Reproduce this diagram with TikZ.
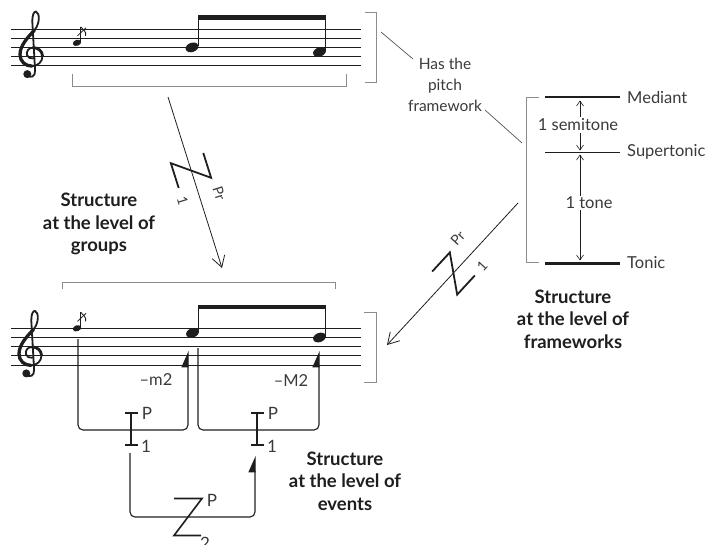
\documentclass[tikz,border=0pt]{standalone}
\usepackage{fontspec}
\setmainfont{Lato}
\usetikzlibrary{arrows.meta}
\definecolor{ink}{HTML}{1E1E1E}
\definecolor{rule}{HTML}{8C8C8C}
\definecolor{txt}{HTML}{3A3A3A}
\definecolor{ptr}{HTML}{555555}

% treble clef, anchored on the G line
\newcommand\gclef[2]{%
  \begin{scope}[shift={(#1,#2)}, yscale=-1]
    \draw[ink, line width=1.8pt, line cap=round]
      (-4,-18.5) .. controls (-1,-22) and (4,-20) .. (3.6,-14)
      -- (0.8,35) .. controls (0.5,41) and (2.5,45.5) .. (4.5,45)
      .. controls (8.5,43.5) and (8.5,33) .. (3,26.5)
      .. controls (-4,19) and (-11.5,11) .. (-11.5,2)
      .. controls (-11.5,-5) and (-6,-9.5) .. (0.5,-9.5)
      .. controls (6.5,-9.5) and (11,-5) .. (11,0.5)
      .. controls (11,5.5) and (6.5,9) .. (1.5,9)
      .. controls (-3,9) and (-5.5,5) .. (-4.5,1.5)
      .. controls (-3.8,-1) and (-1,-2.2) .. (1.5,-1.8);
    \draw[ink, line width=3.3pt, line cap=round]
      (3,26.5) .. controls (-4,19) and (-11.5,11) .. (-11.5,2)
      .. controls (-11.5,-5) and (-6,-9.5) .. (0.5,-9.5);
    \draw[ink, line width=2.8pt, line cap=round]
      (11,0.5) .. controls (11,5.5) and (6.5,9) .. (1.5,9);
    \fill[ink] (-4.2,-17.5) circle (4);
  \end{scope}}

% filled note head
\newcommand\nhd[2]{\fill[ink, rotate around={20:(#1,#2)}] (#1,#2) ellipse (6.6 and 4.6);}

% grace note with slashed flag
\newcommand\grace[2]{%
  \fill[ink, rotate around={20:(#1,#2)}] (#1,#2) ellipse (4.3 and 3.0);
  \draw[ink, line width=0.9pt] ({#1+3.8},{#2-1}) -- ({#1+3.8},{#2-16});
  \draw[ink, line width=0.9pt] ({#1+3.8},{#2-16}) .. controls ({#1+6},{#2-13}) and ({#1+10},{#2-11}) .. ({#1+8.5},{#2-7});
  \draw[ink, line width=0.8pt] ({#1+0.5},{#2-7}) -- ({#1+9},{#2-15});}

\tikzset{
  staffline/.style={ink, line width=0.9pt},
  graybr/.style={rule, line width=1pt},
  ptrline/.style={ptr, line width=0.7pt},
  lbl/.style={text=txt, font=\fontsize{16.5}{21}\selectfont, inner sep=0pt},
  notelbl/.style={text=txt, font=\fontsize{15.5}{21}\selectfont, inner sep=0pt},
  symlbl/.style={text=txt, font=\fontsize{17}{20}\selectfont, inner sep=0pt},
  smalllbl/.style={text=txt, font=\fontsize{14}{16}\selectfont, inner sep=0pt},
  boldtxt/.style={text=ink, font=\bfseries\fontsize{18.5}{22.5}\selectfont, align=center, inner sep=0pt},
  bigarrow/.style={ink, line width=0.8pt, -{Straight Barb[length=11pt,width=13pt,line width=0.8pt]}},
  gaparrow/.style={ink, line width=0.6pt, {Straight Barb[length=5pt,width=7pt]}-{Straight Barb[length=5pt,width=7pt]}},
  zline/.style={ink, line width=1.8pt},
  ibeam/.style={ink, line width=2pt},
  conn/.style={ink, line width=1.1pt, rounded corners=5pt, -{Triangle[left,length=15pt,width=13pt]}},
}

\begin{document}
\begin{tikzpicture}[x=1pt, y=-1pt]
\useasboundingbox (0,0) rectangle (709,544);

% ---------- upper staff ----------
\foreach \k in {0,...,4} \draw[staffline] (11,{29+9.2*\k}) -- (361,{29+9.2*\k});
\gclef{31.5}{56.6}
\grace{77}{42.8}
\nhd{192}{47.4}
\nhd{319.5}{52}
\draw[ink, line width=1.1pt] (198.3,46) -- (198.3,17);
\draw[ink, line width=1.1pt] (325.8,50.5) -- (325.8,17);
\fill[ink] (197.8,15) rectangle (326.4,19.6);
\draw[graybr] (72,74) -- (72,86) -- (346,86) -- (346,74);
\draw[graybr] (365,12) -- (376,12) -- (376,82) -- (365,82);

% ---------- lower staff ----------
\foreach \k in {0,...,4} \draw[staffline] (11,{328.3+9.2*\k}) -- (361,{328.3+9.2*\k});
\gclef{30.5}{355.9}
\grace{77}{328.3}
\nhd{192.5}{332.9}
\nhd{319.5}{337.5}
\draw[ink, line width=1.1pt] (198.8,331.5) -- (198.8,307);
\draw[ink, line width=1.1pt] (325.8,336) -- (325.8,307);
\fill[ink] (198.3,304.8) rectangle (326.4,309.4);
\draw[graybr] (62,289) -- (62,282) -- (335,282) -- (335,289);
\draw[graybr] (364,312) -- (376,312) -- (376,382) -- (364,382);

% ---------- pitch framework ----------
\draw[graybr] (539,97) -- (526,97) -- (526,262) -- (539,262);
\coordinate (medL) at (545,97);   \coordinate (medR) at (620,97);
\coordinate (supL) at (545,152);  \coordinate (supR) at (620,152);
\coordinate (tonL) at (545,263);  \coordinate (tonR) at (620,263);
\draw[ink, line width=1.3pt] (medL) -- (medR);
\draw[ink, line width=1pt] (supL) -- (supR);
\draw[ink, line width=3pt] (tonL) -- (tonR);
\node[lbl, anchor=west] (mediant) at (627,97) {Mediant};
\node[lbl, anchor=west] (supertonic) at (627,152) {Supertonic};
\node[lbl, anchor=west] (tonic) at (627,263) {Tonic};
\coordinate (semiT) at (580,100.5); \coordinate (semiB) at (580,150.5);
\coordinate (toneT) at (580,154.5); \coordinate (toneB) at (580,260.5);
\draw[gaparrow] (semiT) -- (semiB);
\draw[gaparrow] (toneT) -- (toneB);
\node[lbl, fill=white, inner sep=1.5pt] (semitone) at (578,125) {1 semitone};
\node[lbl, fill=white, inner sep=1.5pt] (tone) at (589,203) {1 tone};

% ---------- annotation ----------
\node[notelbl, align=center] (hasfw) at (445,85) {Has the\\pitch\\framework};
\coordinate (brU) at (381,32);   \coordinate (hasA) at (413,59);
\coordinate (hasB) at (485,110); \coordinate (fwL) at (522,143);
\draw[ptrline] (brU) -- (hasA);
\draw[ptrline] (hasB) -- (fwL);

% ---------- prolongation arrows ----------
\coordinate (grpS) at (168,97);  \coordinate (grpE) at (222,268);
\draw[bigarrow] (grpS) -- (grpE);
\begin{scope}[shift={(191,170.5)}, rotate=-72.5]
  \draw[zline] (-13,-17) -- (13,-17) -- (-13,17) -- (13,17);
  \node[smalllbl, rotate=-72.5] (zaP) at (30,-20) {Pr};
  \node[smalllbl, rotate=-72.5] (zaS) at (26,17) {1};
\end{scope}

\coordinate (fwS) at (518,203);  \coordinate (fwE) at (387,345);
\draw[bigarrow] (fwS) -- (fwE);
\begin{scope}[shift={(453.5,273.5)}, rotate=47.3]
  \draw[zline] (-13,-17) -- (13,-17) -- (-13,17) -- (13,17);
  \node[smalllbl, rotate=47.3] (zbP) at (29,-21) {Pr};
  \node[smalllbl, rotate=47.3] (zbS) at (25,16) {1};
\end{scope}

% ---------- event connections ----------
\coordinate (gr) at (78,339);   \coordinate (c1a) at (78,430);
\coordinate (c1b) at (188,430); \coordinate (eTip) at (188,351);
\draw[conn] (gr) -- (c1a) -- (c1b) -- (eTip);
\coordinate (eS) at (198,348);  \coordinate (c2a) at (198,430);
\coordinate (c2b) at (319,430); \coordinate (dTip) at (319,351);
\draw[conn] (eS) -- (c2a) -- (c2b) -- (dTip);
\node[lbl] (m2) at (156,380) {–m2};
\node[lbl] (M2) at (291,381) {–M2};

% I symbols
\draw[ibeam] (131,413) -- (131,445);
\draw[ink, line width=1.6pt] (125,413) -- (137.5,413) (125,445) -- (137.5,445);
\node[symlbl] (i1P) at (147,413) {P};
\node[symlbl] (i1S) at (146,446) {1};
\draw[ibeam] (257,413) -- (257,445);
\draw[ink, line width=1.6pt] (251,413) -- (263.5,413) (251,445) -- (263.5,445);
\node[symlbl] (i2P) at (273,413) {P};
\node[symlbl] (i2S) at (272,446) {1};

% second-level connection
\coordinate (zS) at (130,453);  \coordinate (z1) at (130,517);
\coordinate (z2) at (255,517);  \coordinate (zTip) at (255,456);
\draw[conn] (zS) -- (z1) -- (z2) -- (zTip);
\begin{scope}[shift={(188,517)}]
  \draw[zline, line width=1.6pt] (-14,-18.5) -- (14,-18.5) -- (-14,18.5) -- (13,18.5);
  \node[symlbl] (zcP) at (24,-17) {P};
  \node[symlbl] (zcS) at (17,26) {2};
\end{scope}

% ---------- level captions ----------
\node[boldtxt] (capGroups) at (99,224) {Structure\\at the level of\\groups};
\node[boldtxt] (capFrames) at (573,319) {Structure\\at the level of\\frameworks};
\node[boldtxt] (capEvents) at (345,481) {Structure\\at the level of\\events};
\end{tikzpicture}
\end{document}
